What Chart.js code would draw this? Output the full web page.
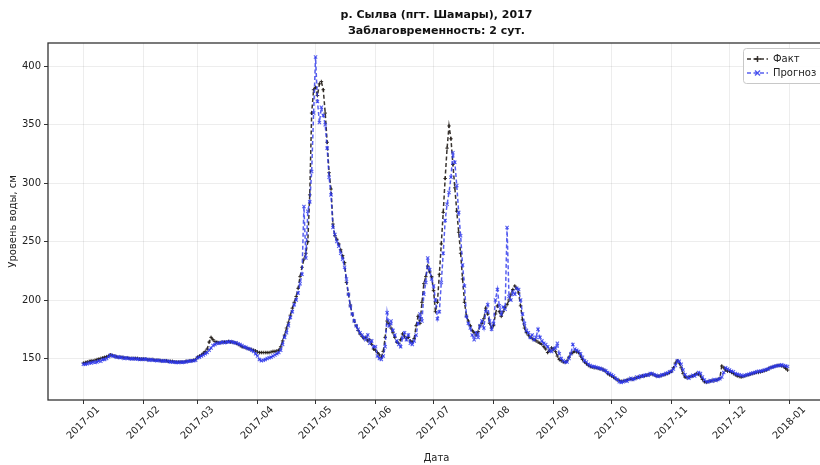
<!DOCTYPE html>
<html>
<head>
<meta charset="utf-8">
<script src="https://cdn.jsdelivr.net/npm/chart.js@4.4.1/dist/chart.umd.min.js"></script>
<style>
    html, body { margin: 0; padding: 0; background: #fff; overflow: hidden; width: 820px; height: 465px; }
    #wrap { width: 830px; height: 465px; }
</style>
</head>
<body>
<div id="wrap"><canvas id="levelChart" width="830" height="465"></canvas></div>
<script>
// Day index (0 = 2017-01-01) of each month start, and its label
const monthStarts = [0, 31, 59, 90, 120, 151, 181, 212, 243, 273, 304, 334, 365];
const monthLabels = ['2017-01', '2017-02', '2017-03', '2017-04', '2017-05', '2017-06',
    '2017-07', '2017-08', '2017-09', '2017-10', '2017-11', '2017-12', '2018-01'];
const yTicks = [150, 200, 250, 300, 350, 400];

// Daily water level, cm (one row per month)
const factLevel = [
    146,146.5,147,147.5,148,148,148.5,149,149.5,150,150.5,151,151.5,152,153,152.5,152,151.5,151,151,151,150.5,150.5,150.5,150,150,150,150,150,149.5,149.5,
    149.5,149.5,149,149,149,149,148.5,148.5,148.5,148,148,148,148,147.5,147.5,147.5,147,147,147,147,147,147,147.5,147.5,148,148,148.5,149,
    151,152,153,154.5,156,158,164,168,166,164.5,164,163.5,163.5,164,164,164,164.5,164,164,163.5,163,162,161,160,159.5,159,158.5,158,157.5,157,156.5,
    155.5,155,155,155,155,155,155,155.5,156,156,156.5,157,160,165,170,176,181,187,193,198,203,210,220,228,235,240,250,290,360,380,
    382,375,385,387,380,360,335,309,295,265,255,252,248,243,238,232,215,205,195,188,182,178,174,171,169,167,168,165,166,162,158,
    157,155,153,151,156,168,182,180,176,172,168,164,163,166,171,169,167,168,165,164,167,178,186,180,198,214,220,229,224,220,
    208,190,198,222,248,275,304,330,349,338,316,296,276,258,240,218,198,186,182,178,174,172,170,173,178,180,184,193,188,180,176,
    178,188,195,190,186,190,194,196,200,205,209,212,210,206,195,183,176,172,170,168,167,166,165,164,163,162,160,158,155,157,159,
    158,156,152,149,148,147,146.5,148,151,154,155,156,155.5,155,152,149,147,145.5,144,143,142.5,142,142,141.5,141,141,140,139,137,136,
    135,134,133,131.5,131,130.5,130.5,131,131.5,132,132.5,132,133,133.5,134,134.5,135,135,135.5,136,136.5,136.5,136,135,135,135,135.5,136,136.5,137,138,
    139,142,146,148,146,142,137,134,133.5,134,134.5,135,136,137,136.5,135,132,130,129.5,130,130.5,131,131,131.5,132,133,143.5,142,140,139,
    139,138,137,136,135,134.5,134,134.5,135,135.5,136,136.5,137,137.5,138,138,138.5,139,139.5,140,141,142,142.5,143,143.5,144,144,143.5,143,141.5,140
];
const forecastLevel = [
    145,145,145.5,146,146,147,146.5,147,148,147.5,149,149,150,151.5,153,152,152,151,151.5,150.5,151,150,150.5,150,150,149.5,150,149.5,149.5,149,149.5,
    149,149.5,149,148.5,149,148.5,148.5,148,148.5,148,147.5,148,147.5,147.5,147,147,147,146.5,146.5,147,146.5,147,147,147.5,147.5,148,148,148.5,
    150.5,151,152,153,154,155,157,159,161,162,163,163,163.5,164,163.5,164,164,164.5,164,163.5,163.5,162.5,162,161,160,159.5,158.5,158,157,156,154,
    152,149,148,148.5,149,150,150.5,151,152,153,154,155,157,162,168,172,178,185,190,196,200,206,214,222,280,236,276,284,310,360,
    408,370,352,365,358,350,330,305,290,262,256,250,246,240,235,228,218,205,195,188,182,178,175,172,170,168,166,170,163,165,160,
    160,152,150,149,152,160,189,178,182,174,170,165,162,160,168,172,166,170,163,162,165,170,180,188,182,205,215,236,226,218,
    212,200,184,190,215,240,268,282,292,305,326,318,298,275,255,230,212,186,180,176,170,166,172,168,178,182,176,190,196,182,175,
    180,200,209,195,188,194,192,262,203,200,207,205,210,209,200,188,180,174,172,168,170,166,168,175,168,165,163,162,160,157,156,
    158,159,163,154,150,148,147,147,150,154,162,158,157,156,154,151,148,147,145,144,143,143,142.5,142,141.5,141,140,139.5,138,137,
    136,135,133,132,130,129.5,130,131,130.5,132,133,132,132.5,134,133.5,135,134.5,135.5,136,135.5,137,137,136,135.5,134.5,135,136,136,137,137.5,138.5,
    139,141,144,148,147.5,145,140,136,134,133,134.5,135.5,135,136.5,138,137,134,131.5,130,130,131,130.5,132,131,132,132.5,134,138,142,141,
    140,139,138.5,137,136.5,136,135.5,135,135.5,136,136.5,137,137.5,138,138.5,139,139,139.5,140,140.5,141,142,142.5,143,143.5,144,144,144.5,144,143.5,143
];

const FACT_COLOR = 'rgba(35, 30, 25, 0.9)';
const FORECAST_COLOR = 'rgba(45, 55, 235, 0.8)';
const FONT = '"DejaVu Sans", sans-serif';

// Frame, rotated month labels, title and legend
const decorPlugin = {
    id: 'decor',
    afterDraw(chart) {
        const { ctx, chartArea: a, scales: { x } } = chart;
        ctx.save();

        ctx.strokeStyle = '#333';
        ctx.lineWidth = 1.3;
        ctx.strokeRect(a.left, a.top, a.right - a.left, a.bottom - a.top);

        ctx.fillStyle = '#222';
        ctx.font = '10px ' + FONT;
        ctx.textAlign = 'center';
        ctx.textBaseline = 'middle';
        monthStarts.forEach((d, i) => {
            ctx.save();
            ctx.translate(x.getPixelForValue(d), a.bottom + 23);
            ctx.rotate(-Math.PI / 4);
            ctx.fillText(monthLabels[i], 0, 0);
            ctx.restore();
        });

        const cx = (a.left + a.right) / 2;
        ctx.fillStyle = '#111';
        ctx.font = 'bold 11px ' + FONT;
        ctx.fillText('р. Сылва (пгт. Шамары), 2017', cx, 15);
        ctx.fillText('Заблаговременность: 2 сут.', cx, 31);

        // legend box
        ctx.fillStyle = 'rgba(255,255,255,0.85)';
        ctx.strokeStyle = '#c8c8c8';
        ctx.lineWidth = 1;
        ctx.beginPath();
        ctx.roundRect(743.5, 48.5, 82, 35, 3);
        ctx.fill();
        ctx.stroke();

        const entries = [
            { label: 'Факт', color: FACT_COLOR, y: 59, marker: 'plus' },
            { label: 'Прогноз', color: FORECAST_COLOR, y: 73, marker: 'x' }
        ];
        entries.forEach(e => {
            ctx.strokeStyle = e.color;
            ctx.lineWidth = 1.5;
            ctx.setLineDash([4, 2.5]);
            ctx.beginPath();
            ctx.moveTo(747, e.y);
            ctx.lineTo(768, e.y);
            ctx.stroke();
            ctx.setLineDash([]);
            ctx.beginPath();
            if (e.marker === 'plus') {
                ctx.moveTo(754.5, e.y); ctx.lineTo(760.5, e.y);
                ctx.moveTo(757.5, e.y - 3); ctx.lineTo(757.5, e.y + 3);
            } else {
                ctx.moveTo(755, e.y - 2.5); ctx.lineTo(760, e.y + 2.5);
                ctx.moveTo(755, e.y + 2.5); ctx.lineTo(760, e.y - 2.5);
            }
            ctx.stroke();
            ctx.fillStyle = '#222';
            ctx.font = '10px ' + FONT;
            ctx.textAlign = 'left';
            ctx.fillText(e.label, 773, e.y);
        });

        ctx.restore();
    }
};

new Chart(document.getElementById('levelChart'), {
    type: 'line',
    data: {
        datasets: [
            {
                label: 'Факт',
                data: factLevel.map((v, i) => ({ x: i, y: v })),
                borderColor: FACT_COLOR,
                backgroundColor: FACT_COLOR,
                borderWidth: 1.5,
                borderDash: [4, 2.5],
                pointStyle: 'cross',
                pointRadius: 1.8,
                pointBorderWidth: 1,
                tension: 0,
                order: 2
            },
            {
                label: 'Прогноз',
                data: forecastLevel.map((v, i) => ({ x: i, y: v })),
                borderColor: FORECAST_COLOR,
                backgroundColor: FORECAST_COLOR,
                borderWidth: 1.5,
                borderDash: [4, 2.5],
                pointStyle: 'crossRot',
                pointRadius: 2.3,
                pointBorderWidth: 1.1,
                tension: 0,
                order: 1
            }
        ]
    },
    options: {
        responsive: false,
        animation: false,
        devicePixelRatio: 1,
        layout: { padding: { top: 43, right: 3, bottom: 0, left: 0 } },
        plugins: {
            legend: { display: false },
            tooltip: { enabled: false }
        },
        scales: {
            x: {
                type: 'linear',
                min: -18.3,
                max: 383.3,
                border: { display: false },
                grid: { color: 'rgba(0,0,0,0.07)', tickColor: '#333', tickLength: 4 },
                ticks: { display: false },
                afterBuildTicks: scale => { scale.ticks = monthStarts.map(v => ({ value: v })); },
                afterFit: scale => { scale.height = 65; },
                title: {
                    display: true,
                    text: 'Дата',
                    color: '#222',
                    font: { family: FONT, size: 10 },
                    padding: { top: 0, bottom: 1 }
                }
            },
            y: {
                min: 114.4,
                max: 420,
                border: { display: false },
                grid: { color: 'rgba(0,0,0,0.07)', tickColor: '#333', tickLength: 4 },
                ticks: {
                    color: '#222',
                    padding: 3,
                    font: { family: FONT, size: 10 }
                },
                afterBuildTicks: scale => { scale.ticks = yTicks.map(v => ({ value: v })); },
                afterFit: scale => { scale.width = 48; },
                title: {
                    display: true,
                    text: 'Уровень воды, см',
                    color: '#222',
                    font: { family: FONT, size: 10 },
                    padding: { top: 7, bottom: 0 }
                }
            }
        }
    },
    plugins: [decorPlugin]
});
</script>
</body>
</html>
